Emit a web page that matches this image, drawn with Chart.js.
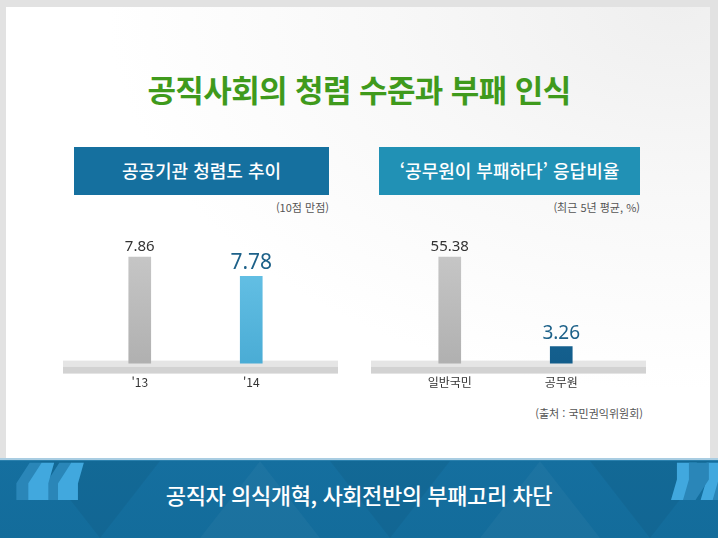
<!DOCTYPE html>
<html lang="ko">
<head>
<meta charset="utf-8">
<script src="https://cdn.jsdelivr.net/npm/chart.js@4.4.1/dist/chart.umd.min.js"></script>
<style>
  html, body { margin: 0; padding: 0; }
  body {
    width: 718px; height: 538px; overflow: hidden; position: relative;
    background: #e2e2e2;
    font-family: "Noto Sans CJK KR", "Noto Sans", sans-serif;
  }
  #paper {
    position: absolute; left: 6px; top: 7px; width: 704px; height: 451px;
    background: radial-gradient(ellipse at 95% 0%, #efefef 0%, #f8f8f8 30%, #ffffff 60%);
  }
  .title {
    position: absolute; left: 0; width: 718px; top: 66px; text-align: center;
    color: #3f9a1c; font-size: 31px; font-weight: 700; letter-spacing: -0.6px;
  }
  .head {
    position: absolute; top: 147px; height: 48px; line-height: 47px;
    color: #fff; font-size: 18px; font-weight: 500; text-align: center;
  }
  .note {
    position: absolute; font-size: 11px; color: #555; text-align: right;
  }
  .box { position: absolute; }
  #band {
    position: absolute; left: 0; top: 458px; width: 718px; height: 80px; overflow: hidden;
    background:
      linear-gradient(to bottom, #a9cde2 0, #a9cde2 2px, #2a80ad 2px, #2a80ad 3px, transparent 3px),
      linear-gradient(#156f9f, #136c9b);
  }
  .tri {
    position: absolute; top: 3px; width: 0; height: 0;
    border-left: 60px solid transparent; border-right: 60px solid transparent;
  }
  .down { border-top: 77px solid rgba(0,0,0,0.05); }
  .up { border-bottom: 77px solid rgba(255,255,255,0.035); }
  #band .txt {
    position: absolute; left: 0; width: 718px; top: 20px; text-align: center;
    color: #fff; font-size: 22px; font-weight: 500; letter-spacing: -0.4px;
  }
  .q {
    position: absolute; font-family: "DejaVu Sans", sans-serif; font-weight: 700;
    font-size: 120px; line-height: 120px;
  }
</style>
</head>
<body>
<div id="paper"></div>
<div class="title">공직사회의 청렴 수준과 부패 인식</div>

<div class="head" style="left:74px;width:255px;background:#15709f;">공공기관 청렴도 추이</div>
<div class="head" style="left:379px;width:261px;background:#2191b5;">‘공무원이 부패하다’ 응답비율</div>
<div class="note" style="left:200px;width:129px;top:199px;">(10점 만점)</div>
<div class="note" style="left:480px;width:160px;top:199px;">(최근 5년 평균, %)</div>
<div class="note" style="left:480px;width:163px;top:405px;">(출처 : 국민권익위원회)</div>

<div class="box" style="left:63px;top:220px;width:275px;height:182px;"><canvas id="left-chart"></canvas></div>
<div class="box" style="left:371px;top:220px;width:275px;height:182px;"><canvas id="right-chart"></canvas></div>

<div id="band">
  <div class="tri down" style="left:40px;"></div>
  <div class="tri up" style="left:200px;"></div>
  <div class="tri down" style="left:330px;"></div>
  <div class="tri up" style="left:480px;"></div>
  <div class="tri down" style="left:590px;"></div>
  <div class="q" style="left:4px;top:-9px;color:#2a86b8;">“</div>
  <div class="q" style="left:16px;top:-9px;color:#41a8de;">“</div>
  <div class="q" style="left:660px;top:-9px;color:#41a8de;">”</div>
  <div class="q" style="left:672px;top:-9px;color:#2a86b8;">”</div>
  <div class="txt">공직자 의식개혁, 사회전반의 부패고리 차단</div>
</div>

<script>
const trustLabels = ["'13", "'14"];
const trustValues = [7.86, 7.78];

const corruptLabels = ['일반국민', '공무원'];
const corruptValues = [55.38, 3.26];

// 축 범위 (원본 비율 맞춤)
const trustMin = 7.414, trustMax = 7.974;
const corruptMin = -6.69, corruptMax = 71.2;

function grad(ctx, top, bottom) {
  const c = ctx.chart;
  const area = c.chartArea;
  if (!area) return top;
  const g = c.ctx.createLinearGradient(0, area.top, 0, area.bottom);
  g.addColorStop(0, top);
  g.addColorStop(1, bottom);
  return g;
}

// 바닥 받침대
const platform = {
  id: 'platform',
  beforeDatasetsDraw(chart) {
    const { ctx, chartArea } = chart;
    const b = chartArea.bottom;
    ctx.save();
    ctx.fillStyle = '#e5e5e5';
    ctx.fillRect(0, b - 3, chart.width, 6);
    ctx.fillStyle = '#d2d2d2';
    ctx.fillRect(0, b + 3, chart.width, 7);
    ctx.restore();
  }
};

// 값 라벨
const valueLabels = {
  id: 'valueLabels',
  afterDatasetsDraw(chart, args, opts) {
    const { ctx } = chart;
    const meta = chart.getDatasetMeta(0);
    const data = chart.data.datasets[0].data;
    ctx.save();
    ctx.textAlign = 'center';
    ctx.textBaseline = 'bottom';
    meta.data.forEach((bar, i) => {
      ctx.font = opts.fonts[i];
      ctx.fillStyle = opts.colors[i];
      ctx.fillText(data[i].toFixed(2), bar.x, bar.y - opts.gap[i]);
    });
    ctx.restore();
  }
};

function makeChart(el, labels, values, colors, yMin, yMax, pad, labelOpts) {
  return new Chart(el, {
    type: 'bar',
    data: {
      labels: labels,
      datasets: [{
        data: values,
        base: yMin,
        barThickness: 22,
        borderWidth: 0,
        backgroundColor: (ctx) => grad(ctx, colors[ctx.dataIndex][0], colors[ctx.dataIndex][1])
      }]
    },
    options: {
      responsive: true,
      maintainAspectRatio: false,
      animation: false,
      layout: { padding: { left: pad[0], right: pad[1], top: 10, bottom: 0 } },
      plugins: {
        legend: { display: false },
        tooltip: { enabled: false },
        valueLabels: labelOpts
      },
      scales: {
        x: {
          grid: { display: false, drawTicks: false },
          border: { display: false },
          ticks: {
            padding: 12,
            color: '#333',
            font: { family: '"Noto Sans CJK KR", "Noto Sans", sans-serif', size: 12 }
          }
        },
        y: { display: false, min: yMin, max: yMax }
      }
    },
    plugins: [platform, valueLabels]
  });
}

makeChart(document.getElementById('left-chart'), trustLabels, trustValues,
  [['#cbcbcb', '#b0b0b0'], ['#6fc8eb', '#4aacd5']],
  trustMin, trustMax, [21, 31],
  {
    fonts: ['15px "Noto Sans", sans-serif', '21px "Noto Sans", sans-serif'],
    colors: ['#333333', '#1d6189'],
    gap: [3, 3]
  });

makeChart(document.getElementById('right-chart'), corruptLabels, corruptValues,
  [['#cbcbcb', '#b0b0b0'], ['#1b72a3', '#135d8b']],
  corruptMin, corruptMax, [23, 29],
  {
    fonts: ['15px "Noto Sans", sans-serif', '19px "Noto Sans", sans-serif'],
    colors: ['#333333', '#1d6189'],
    gap: [3, 3]
  });
</script>
</body>
</html>
